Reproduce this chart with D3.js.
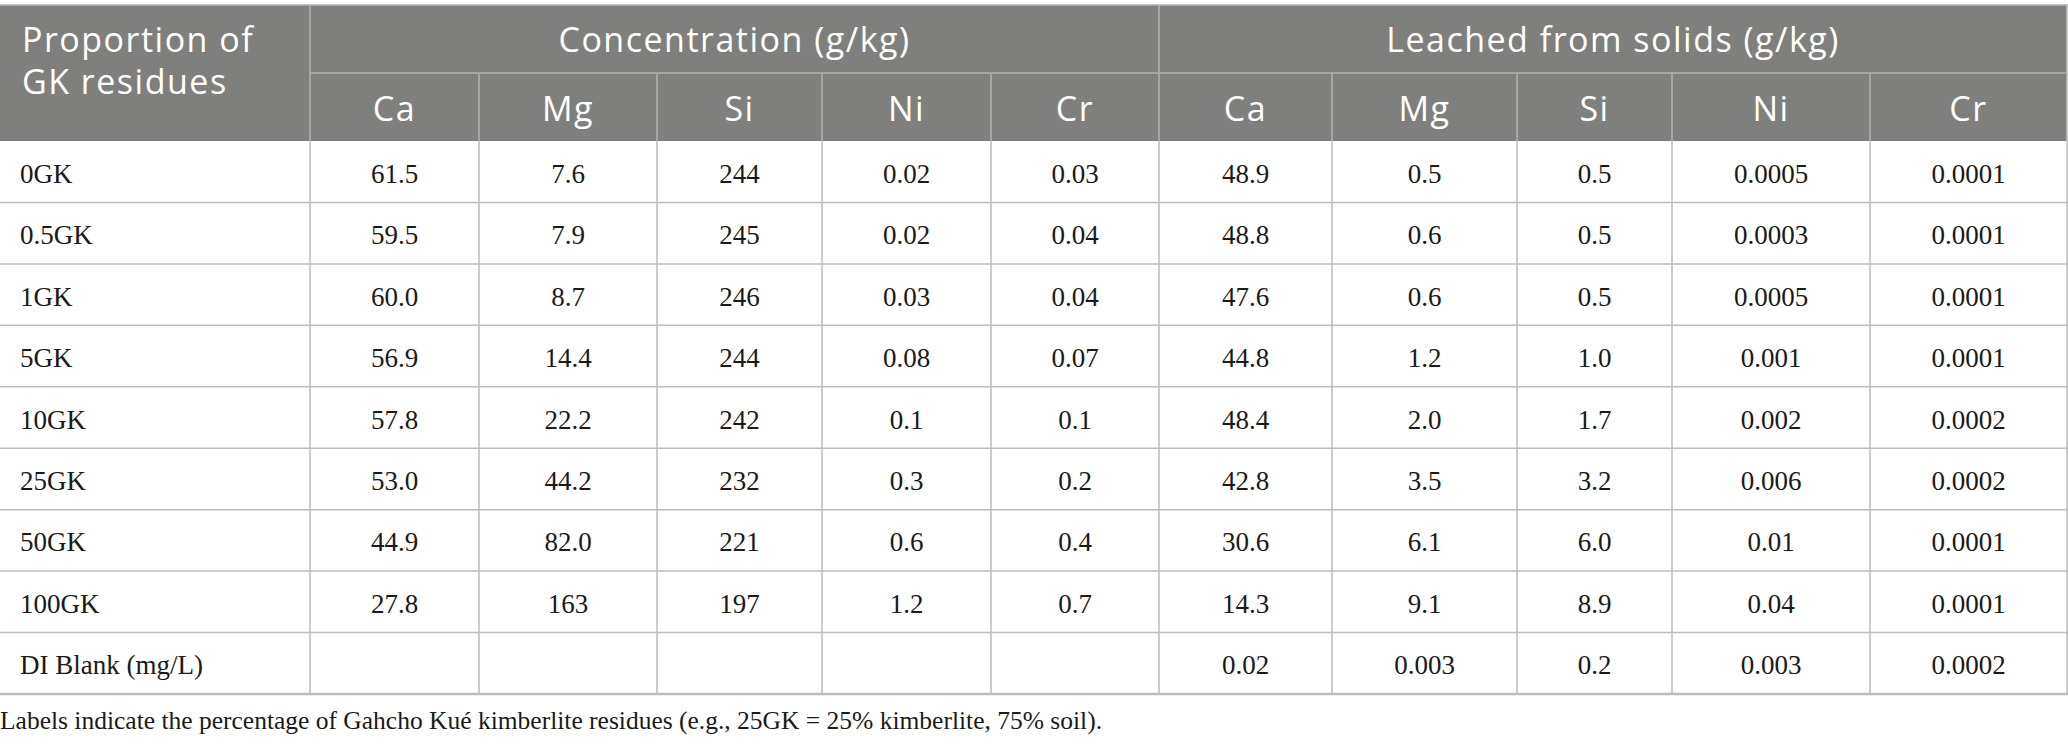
<!DOCTYPE html>
<html>
<head>
<meta charset="utf-8">
<script src="https://cdn.jsdelivr.net/npm/d3@7/dist/d3.min.js"></script>
<style>
  html, body { margin: 0; padding: 0; background: #ffffff; }
  svg { display: block; }
</style>
</head>
<body>
<script>
// ---------- DATA ----------
const rowLabels = ["0GK", "0.5GK", "1GK", "5GK", "10GK", "25GK", "50GK", "100GK", "DI Blank (mg/L)"];
const elements = ["Ca", "Mg", "Si", "Ni", "Cr"];
const groupTitles = ["Concentration (g/kg)", "Leached from solids (g/kg)"];
const firstHeader = ["Proportion of", "GK residues"];
const concentration = [
  ["61.5", "7.6", "244", "0.02", "0.03"],
  ["59.5", "7.9", "245", "0.02", "0.04"],
  ["60.0", "8.7", "246", "0.03", "0.04"],
  ["56.9", "14.4", "244", "0.08", "0.07"],
  ["57.8", "22.2", "242", "0.1", "0.1"],
  ["53.0", "44.2", "232", "0.3", "0.2"],
  ["44.9", "82.0", "221", "0.6", "0.4"],
  ["27.8", "163", "197", "1.2", "0.7"],
  ["", "", "", "", ""]
];
const leached = [
  ["48.9", "0.5", "0.5", "0.0005", "0.0001"],
  ["48.8", "0.6", "0.5", "0.0003", "0.0001"],
  ["47.6", "0.6", "0.5", "0.0005", "0.0001"],
  ["44.8", "1.2", "1.0", "0.001", "0.0001"],
  ["48.4", "2.0", "1.7", "0.002", "0.0002"],
  ["42.8", "3.5", "3.2", "0.006", "0.0002"],
  ["30.6", "6.1", "6.0", "0.01", "0.0001"],
  ["14.3", "9.1", "8.9", "0.04", "0.0001"],
  ["0.02", "0.003", "0.2", "0.003", "0.0002"]
];
const caption = "Labels indicate the percentage of Gahcho Kué kimberlite residues (e.g., 25GK = 25% kimberlite, 75% soil).";

// ---------- LAYOUT ----------
const W = 2068, H = 746;
const colWidths = [310, 169, 178, 165, 169, 168, 173, 185, 155, 198, 197];
const colEdges = [0, ...d3.cumsum(colWidths)];
const tableTop = 5, headRowH = 68, headBottom = tableTop + 2 * headRowH;
const tableBottom = 694;

const headBg = "#7f807e";
const headLine = "#b2b2b2";
const bodyLine = "#bdbdbd";
const sansFont = "'Open Sans', 'DejaVu Sans', sans-serif";
const serifFont = "'Liberation Serif', 'Times New Roman', serif";

const svg = d3.select("body").append("svg")
  .attr("width", W).attr("height", H)
  .attr("viewBox", `0 0 ${W} ${H}`);

const y = d3.scaleBand().domain(rowLabels).range([headBottom, tableBottom]);

// Header background
svg.append("rect").attr("x", 0).attr("y", tableTop)
  .attr("width", colEdges[11]).attr("height", 2 * headRowH).attr("fill", headBg);

// Header lines
const hl = svg.append("g").attr("stroke", headLine).attr("stroke-width", 1.5);
hl.append("line").attr("x1", 0).attr("x2", W).attr("y1", tableTop).attr("y2", tableTop);
hl.append("line").attr("x1", colEdges[1]).attr("x2", W).attr("y1", tableTop + headRowH).attr("y2", tableTop + headRowH);
[1, 6].forEach(i => hl.append("line").attr("x1", colEdges[i]).attr("x2", colEdges[i])
  .attr("y1", tableTop).attr("y2", headBottom));
[2, 3, 4, 5, 7, 8, 9, 10].forEach(i => hl.append("line").attr("x1", colEdges[i]).attr("x2", colEdges[i])
  .attr("y1", tableTop + headRowH).attr("y2", headBottom));

// Header text
const ht = svg.append("g").attr("fill", "#ffffff").style("font-family", sansFont)
  .style("font-size", "34px").style("letter-spacing", "1.5px");
firstHeader.forEach((t, i) => ht.append("text").attr("x", 22).attr("y", 52 + i * 42).text(t));
groupTitles.forEach((t, g) => ht.append("text")
  .attr("x", (colEdges[1 + g * 5] + colEdges[6 + g * 5]) / 2)
  .attr("y", tableTop + headRowH / 2 + 13).attr("text-anchor", "middle").text(t));
[0, 1].forEach(g => elements.forEach((e, j) => ht.append("text")
  .attr("x", (colEdges[1 + g * 5 + j] + colEdges[2 + g * 5 + j]) / 2)
  .attr("y", tableTop + headRowH * 1.5 + 14).attr("text-anchor", "middle").text(e)));

// Body lines
const bl = svg.append("g").attr("stroke", bodyLine).attr("stroke-width", 1.5);
rowLabels.forEach(r => bl.append("line").attr("x1", 0).attr("x2", W)
  .attr("y1", y(r) + y.bandwidth()).attr("y2", y(r) + y.bandwidth()));
bl.append("line").attr("x1", 0).attr("x2", W).attr("y1", tableBottom).attr("y2", tableBottom).attr("stroke-width", 2.5);
for (let i = 1; i <= 10; i++) bl.append("line").attr("x1", colEdges[i]).attr("x2", colEdges[i])
  .attr("y1", headBottom).attr("y2", tableBottom);
bl.append("line").attr("x1", W - 1).attr("x2", W - 1).attr("y1", tableTop).attr("y2", tableBottom);

// Body text
const bt = svg.append("g").attr("fill", "#1a1a1a").style("font-family", serifFont).style("font-size", "27px");
const rows = bt.selectAll("g.row").data(rowLabels.map((r, i) => ({ r, vals: concentration[i].concat(leached[i]) })))
  .join("g").attr("class", "row").attr("transform", d => `translate(0,${y(d.r) + y.bandwidth() / 2 + 11})`);
rows.append("text").attr("x", 20).text(d => d.r);
rows.selectAll("text.v").data(d => d.vals).join("text").attr("class", "v")
  .attr("x", (v, j) => (colEdges[1 + j] + colEdges[2 + j]) / 2)
  .attr("text-anchor", "middle").text(v => v);

// Caption
svg.append("text").attr("x", 0).attr("y", 729).attr("fill", "#1a1a1a")
  .style("font-family", serifFont).style("font-size", "25.5px").text(caption);
</script>
</body>
</html>
